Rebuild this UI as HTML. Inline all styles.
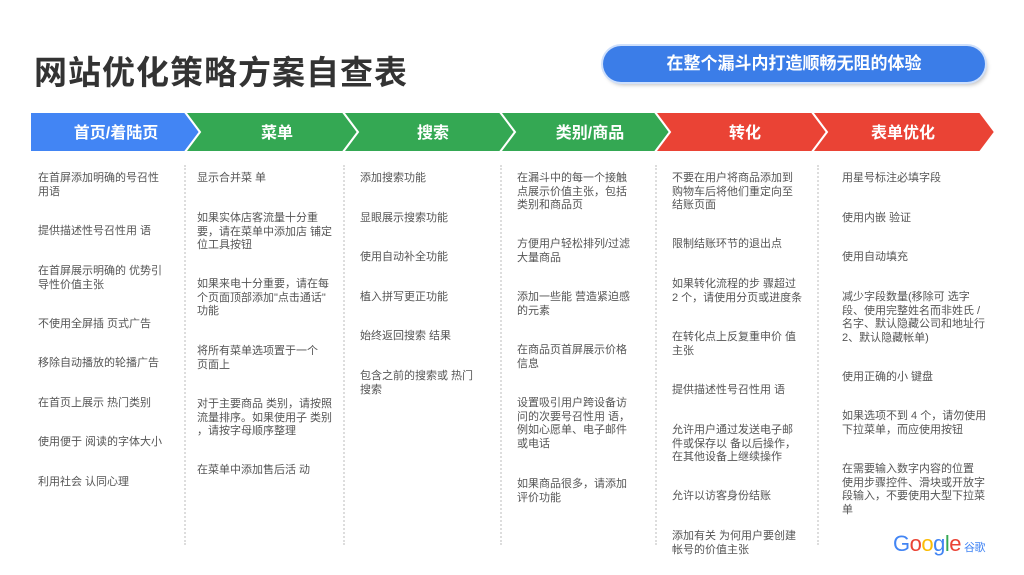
<!DOCTYPE html>
<html><head><meta charset="utf-8"><style>
body{margin:0;width:1024px;height:575px;background:#fff;position:relative;overflow:hidden;font-family:"Liberation Sans","Noto Sans CJK SC",sans-serif}
.t{position:absolute;font-size:11px;line-height:13.5px;color:#555}
.title{position:absolute;left:34px;top:46px;font-size:33px;font-weight:bold;color:#333;letter-spacing:1px}
.pill{position:absolute;left:603px;top:46px;width:382px;height:36px;border-radius:18px;background:#3b7de8;box-shadow:0 0 0 2px #cfe0fb,2px 3px 4px rgba(0,0,0,.25);color:#fff;font-weight:bold;font-size:17px;line-height:36px;text-align:center}
.sep{position:absolute;top:165px;height:380px;border-left:2px dotted #ddd}
</style></head><body>
<div class="title">网站优化策略方案自查表</div>
<div class="pill">在整个漏斗内打造顺畅无阻的体验</div>
<svg style="position:absolute;left:0;top:0" width="1024" height="575">
<g stroke="#fff" stroke-width="2">
<polygon points="30,112 185,112 200,132 185,152 30,152" fill="#4285f4"/>
<polygon points="185,112 343,112 358,132 343,152 185,152 200,132" fill="#34a853"/>
<polygon points="343,112 500,112 515,132 500,152 343,152 358,132" fill="#34a853"/>
<polygon points="500,112 655,112 670,132 655,152 500,152 515,132" fill="#34a853"/>
<polygon points="655,112 812,112 827,132 812,152 655,152 670,132" fill="#ea4335"/>
<polygon points="812,112 980,112 995,132 980,152 812,152 827,132" fill="#ea4335"/>
</g>
<g fill="#fff" font-weight="bold" font-size="16" text-anchor="middle" font-family="Liberation Sans,Noto Sans CJK SC,sans-serif">
<text x="116" y="138">首页/着陆页</text><text x="277" y="138">菜单</text><text x="433" y="138">搜索</text><text x="590" y="138">类别/商品</text><text x="745" y="138">转化</text><text x="903" y="138">表单优化</text>
</g>
</svg>
<div class="sep" style="left:184px"></div><div class="sep" style="left:343px"></div><div class="sep" style="left:500px"></div><div class="sep" style="left:655px"></div><div class="sep" style="left:817px"></div>

<div class="t" style="left:38px;top:172px">在首屏添加明确的号召性<br>用语</div>
<div class="t" style="left:38px;top:225px">提供描述性号召性用 语</div>
<div class="t" style="left:38px;top:265px">在首屏展示明确的 优势引<br>导性价值主张</div>
<div class="t" style="left:38px;top:318px">不使用全屏插 页式广告</div>
<div class="t" style="left:38px;top:357px">移除自动播放的轮播广告</div>
<div class="t" style="left:38px;top:397px">在首页上展示 热门类别</div>
<div class="t" style="left:38px;top:436px">使用便于 阅读的字体大小</div>
<div class="t" style="left:38px;top:476px">利用社会 认同心理</div>

<div class="t" style="left:197px;top:172px">显示合并菜 单</div>
<div class="t" style="left:197px;top:212px">如果实体店客流量十分重<br>要，请在菜单中添加店 铺定<br>位工具按钮</div>
<div class="t" style="left:197px;top:278px">如果来电十分重要，请在每<br>个页面顶部添加"点击通话"<br>功能</div>
<div class="t" style="left:197px;top:345px">将所有菜单选项置于一个<br>页面上</div>
<div class="t" style="left:197px;top:398px">对于主要商品 类别，请按照<br>流量排序。如果使用子 类别<br>，请按字母顺序整理</div>
<div class="t" style="left:197px;top:464px">在菜单中添加售后活 动</div>

<div class="t" style="left:360px;top:172px">添加搜索功能</div>
<div class="t" style="left:360px;top:212px">显眼展示搜索功能</div>
<div class="t" style="left:360px;top:251px">使用自动补全功能</div>
<div class="t" style="left:360px;top:291px">植入拼写更正功能</div>
<div class="t" style="left:360px;top:330px">始终返回搜索 结果</div>
<div class="t" style="left:360px;top:370px">包含之前的搜索或 热门<br>搜索</div>

<div class="t" style="left:517px;top:172px">在漏斗中的每一个接触<br>点展示价值主张，包括<br>类别和商品页</div>
<div class="t" style="left:517px;top:238px">方便用户轻松排列/过滤<br>大量商品</div>
<div class="t" style="left:517px;top:291px">添加一些能 营造紧迫感<br>的元素</div>
<div class="t" style="left:517px;top:344px">在商品页首屏展示价格<br>信息</div>
<div class="t" style="left:517px;top:397px">设置吸引用户跨设备访<br>问的次要号召性用 语，<br>例如心愿单、电子邮件<br>或电话</div>
<div class="t" style="left:517px;top:478px">如果商品很多，请添加<br>评价功能</div>

<div class="t" style="left:672px;top:172px">不要在用户将商品添加到<br>购物车后将他们重定向至<br>结账页面</div>
<div class="t" style="left:672px;top:238px">限制结账环节的退出点</div>
<div class="t" style="left:672px;top:278px">如果转化流程的步 骤超过<br>2 个，请使用分页或进度条</div>
<div class="t" style="left:672px;top:331px">在转化点上反复重申价 值<br>主张</div>
<div class="t" style="left:672px;top:384px">提供描述性号召性用 语</div>
<div class="t" style="left:672px;top:424px">允许用户通过发送电子邮<br>件或保存以 备以后操作，<br>在其他设备上继续操作</div>
<div class="t" style="left:672px;top:490px">允许以访客身份结账</div>
<div class="t" style="left:672px;top:530px">添加有关 为何用户要创建<br>帐号的价值主张</div>

<div class="t" style="left:842px;top:172px">用星号标注必填字段</div>
<div class="t" style="left:842px;top:212px">使用内嵌 验证</div>
<div class="t" style="left:842px;top:251px">使用自动填充</div>
<div class="t" style="left:842px;top:291px">减少字段数量(移除可 选字<br>段、使用完整姓名而非姓氏 /<br>名字、默认隐藏公司和地址行<br>2、默认隐藏帐单)</div>
<div class="t" style="left:842px;top:371px">使用正确的小 键盘</div>
<div class="t" style="left:842px;top:410px">如果选项不到 4 个，请勿使用<br>下拉菜单，而应使用按钮</div>
<div class="t" style="left:842px;top:463px">在需要输入数字内容的位置<br>使用步骤控件、滑块或开放字<br>段输入，不要使用大型下拉菜<br>单</div>

<div style="position:absolute;left:893px;top:531px;font-size:22px;font-family:'Liberation Sans',sans-serif;letter-spacing:-0.5px"><span style="color:#4285f4">G</span><span style="color:#ea4335">o</span><span style="color:#fbbc05">o</span><span style="color:#4285f4">g</span><span style="color:#34a853">l</span><span style="color:#ea4335">e</span><span style="color:#4285f4;font-size:11px;margin-left:3px">谷歌</span></div>
</body></html>
